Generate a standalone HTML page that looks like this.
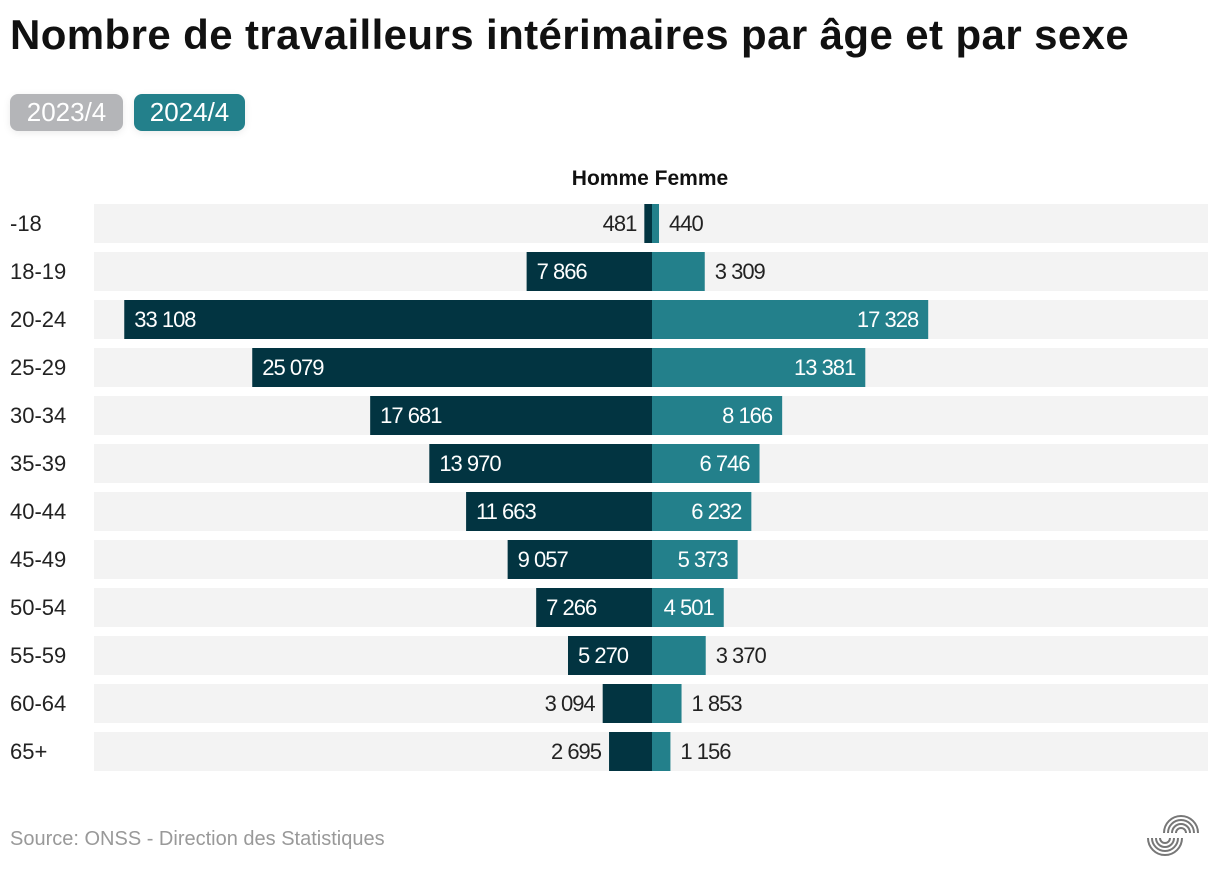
<!DOCTYPE html>
<html><head><meta charset="utf-8"><style>
body{margin:0;width:1220px;height:878px;background:#fff;font-family:"Liberation Sans",sans-serif;overflow:hidden;position:relative}
#title{position:absolute;left:10px;top:11px;font-size:42px;font-weight:bold;color:#111;letter-spacing:0.4px;white-space:nowrap}
.btn{position:absolute;top:94px;height:37px;border-radius:8px;color:#fff;font-size:26px;line-height:37px;text-align:center;box-shadow:0 2px 8px rgba(0,0,0,0.08)}
#src{position:absolute;left:10px;top:828px;font-size:20px;color:#999}
</style></head><body>
<div id="title">Nombre de travailleurs intérimaires par âge et par sexe</div>
<div class="btn" style="left:10px;width:113px;background:#b4b5b8">2023/4</div>
<div class="btn" style="left:134px;width:111px;background:#23808b">2024/4</div>
<svg id="chart" width="1220" height="878" style="position:absolute;left:0;top:0">
<text x="650" y="185" text-anchor="middle" font-size="21" font-weight="bold" fill="#111">Homme Femme</text>
<g id="rows"></g>
<g fill="none" stroke="#777" stroke-width="2">
<path d="M1164 833 a17 17 0 0 1 34 0 M1168 833 a13 13 0 0 1 26 0 M1172 833 a9 9 0 0 1 18 0 M1176 833 a5 5 0 0 1 10 0"/>
<path d="M1148 838 a17 17 0 0 0 34 0 M1152 838 a13 13 0 0 0 26 0 M1156 838 a9 9 0 0 0 18 0 M1160 838 a5 5 0 0 0 10 0"/>
</g>
</svg>
<div id="src">Source: ONSS - Direction des Statistiques</div>
<script>
const categories=["-18","18-19","20-24","25-29","30-34","35-39","40-44","45-49","50-54","55-59","60-64","65+"];
const men=[481,7866,33108,25079,17681,13970,11663,9057,7266,5270,3094,2695];
const women=[440,3309,17328,13381,8166,6746,6232,5373,4501,3370,1853,1156];
const cx=652,scale=0.01594,top0=204,pitch=48,bh=39;
const x=v=>v*scale;
const fmt=v=>v.toLocaleString('fr-FR').replace(/\s/g,' ');
const g=document.getElementById('rows');const NS='http://www.w3.org/2000/svg';
function mk(t,a){const e=document.createElementNS(NS,t);for(const k in a)e.setAttribute(k,a[k]);g.appendChild(e);return e;}
categories.forEach((c,i)=>{
const y=top0+i*pitch;
const bg=mk('rect',{x:94,y:y,width:1114,height:bh,fill:'#f3f3f3'});


const lab=mk('text',{x:10,y:y+27,'font-size':22,fill:'#222'});lab.textContent=c;


const wm=x(men[i]),ww=x(women[i]);
const bm=mk('rect',{x:cx-wm,y:y,width:wm,height:bh,fill:'#023441'});


const bw=mk('rect',{x:cx,y:y,width:ww,height:bh,fill:'#23808b'});


const inM=wm>60,inW=ww>60;
const tm=mk('text',{x:inM?cx-wm+10:cx-wm-8,y:y+27,'font-size':22,'text-anchor':inM?'start':'end',fill:inM?'#fff':'#222','letter-spacing':'-1'});tm.textContent=fmt(men[i]);


const tw=mk('text',{x:inW?cx+ww-10:cx+ww+10,y:y+27,'font-size':22,'text-anchor':inW?'end':'start',fill:inW?'#fff':'#222','letter-spacing':'-1'});tw.textContent=fmt(women[i]);


});
</script>
</body></html>
